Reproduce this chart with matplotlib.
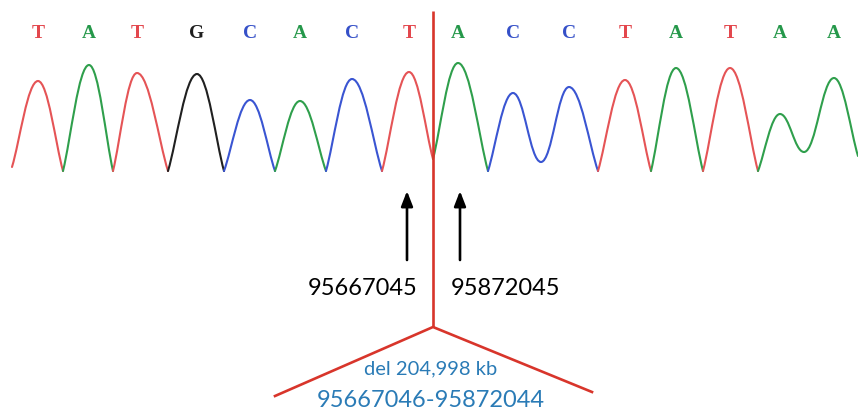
import matplotlib
matplotlib.use("Agg")
import matplotlib.pyplot as plt
from matplotlib.path import Path
from matplotlib.patches import PathPatch

# ---------------- data ----------------
bases = ["T", "A", "T", "G", "C", "A", "C", "T",
         "A", "C", "C", "T", "A", "T", "A", "A"]
peak_pos = [38, 89, 137, 197, 250, 300, 352, 409,
            458, 513, 569, 625, 676, 730, 780, 834]
peak_int = [90, 106, 98, 97, 71, 70, 92, 99,
            108, 78, 84, 91, 103, 103, 57, 93]
valley_pos = [12, 63, 113, 168, 224, 275, 326, 382, 433,
              488, 541, 598, 651, 703, 758, 804, 858]
valley_int = [4, 0, 0, 0, 0, 0, 0, 0, 12,
              0, 9, 0, 0, 0, 0, 19, 15]
breakpoint_pos = 433
left_coord = "95667045"
right_coord = "95872045"
del_label = "del 204,998 kb"
del_range = "95667046-95872044"

base_colors = {"T": "#e3474d", "A": "#25984a", "C": "#3550c8", "G": "#1e1e1e"}
trace_colors = {"T": "#e55456", "A": "#2f9f4c", "C": "#3a55d2", "G": "#202020"}

BASE_Y = 172  # pixel row of zero intensity

fig = plt.figure(figsize=(8.58, 4.10), dpi=100)
ax = fig.add_axes([0, 0, 1, 1])
ax.set_xlim(0, 858)
ax.set_ylim(410, 0)
ax.axis("off")


def to_y(v):
    return BASE_Y - v


def half(vx, vy, px, py, round_valley, rising):
    """Bezier pieces valley->peak (rising) or peak->valley."""
    dx = px - vx
    dy = py - vy
    if round_valley:
        c_v = (vx + 0.40 * dx, vy)
    else:
        c_v = (vx + 0.30 * dx, vy + 0.30 * dy)
    c_p = (px - 0.40 * dx, py)
    if rising:
        return [c_v, c_p, (px, py)]
    else:
        return [c_p, c_v, (vx, vy)]


n = len(bases)
for i in range(n):
    b = bases[i]
    px, py = peak_pos[i], to_y(peak_int[i])
    lx, ly = valley_pos[i], to_y(valley_int[i])
    rx, ry = valley_pos[i + 1], to_y(valley_int[i + 1])
    round_l = i > 0 and bases[i - 1] == b
    round_r = i < n - 1 and bases[i + 1] == b
    verts = [(lx, ly)]
    verts += half(lx, ly, px, py, round_l, True)
    verts += half(rx, ry, px, py, round_r, False)
    codes = [Path.MOVETO] + [Path.CURVE4] * 6
    ax.add_patch(PathPatch(Path(verts, codes), fill=False,
                           edgecolor=trace_colors[b], lw=1.5,
                           joinstyle="round", capstyle="round", zorder=2))

# base calls
for b, x in zip(bases, peak_pos):
    ax.text(x, 33, b, color=base_colors[b], ha="center", va="center",
            fontsize=14, family="Liberation Serif", fontweight="bold")

# breakpoint lines
red = "#d8352b"
ax.plot([breakpoint_pos, breakpoint_pos], [12, 328], color=red, lw=1.9,
        zorder=3, solid_capstyle="butt")
ax.plot([275, breakpoint_pos, 592], [397, 328, 393], color=red, lw=1.9,
        zorder=3, solid_joinstyle="miter")

# arrows
for x in (407, 460):
    ax.annotate("", xy=(x, 192), xytext=(x, 261),
                arrowprops=dict(arrowstyle="-|>,head_length=0.9,head_width=0.35",
                                color="black", lw=1.9, shrinkA=0, shrinkB=0))

ax.text(363, 289, left_coord, ha="center", va="center", fontsize=17,
        family="Lato", color="black")
ax.text(505, 289, right_coord, ha="center", va="center", fontsize=17,
        family="Lato", color="black")

blue = "#2a7bb6"
ax.text(431, 369, del_label, ha="center", va="center", fontsize=14.5,
        family="Lato", color=blue)
ax.text(431, 407, del_range, ha="center", va="baseline", fontsize=17,
        family="Lato", color=blue)

fig.savefig("out.png", dpi=100)
